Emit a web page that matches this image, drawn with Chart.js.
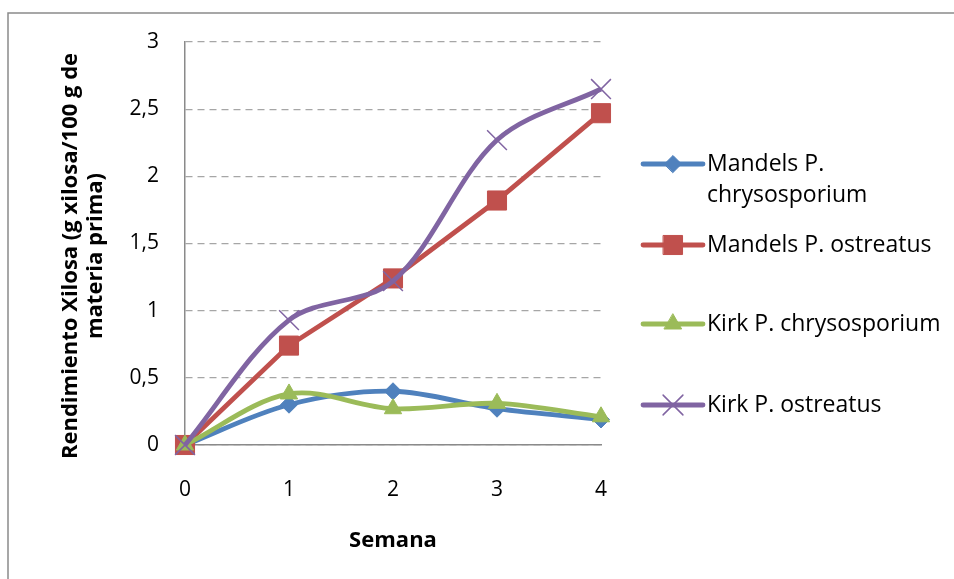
<!DOCTYPE html>
<html>
<head>
<meta charset="utf-8">
<script src="https://cdn.jsdelivr.net/npm/chart.js@4/dist/chart.umd.min.js"></script>
<style>
  html, body { margin: 0; padding: 0; background: #ffffff; }
  #wrap { width: 954px; height: 579px; position: relative; }
</style>
</head>
<body>
<div id="wrap"><canvas id="chart" width="954" height="579"></canvas></div>
<script>
// Semanas de tratamiento (eje X)
const semanas = ['0', '1', '2', '3', '4'];

// Rendimiento de xilosa (g xilosa / 100 g de materia prima)
const mandelsChrysosporium = [0, 0.30, 0.40, 0.27, 0.19];
const mandelsOstreatus     = [0, 0.74, 1.24, 1.82, 2.47];
const kirkChrysosporium    = [0, 0.38, 0.27, 0.31, 0.21];
const kirkOstreatus        = [0, 0.93, 1.22, 2.27, 2.65];

// Etiquetas del eje Y (coma decimal)
const yTickLabels = ['0', '0,5', '1', '1,5', '2', '2,5', '3'];

// Nombres de las series tal como aparecen en la leyenda (una entrada por línea)
const seriesNames = [
  ['Mandels P.', 'chrysosporium'],
  ['Mandels P. ostreatus'],
  ['Kirk P. chrysosporium'],
  ['Kirk P. ostreatus']
];

const yTitle = ['Rendimiento Xilosa (g xilosa/100 g de', 'materia prima)'];
const xTitle = 'Semana';

const FONT = '"Open Sans", Lato, sans-serif';
const TICK_SIZE = 21;
const TITLE_SIZE = 22;
const LEGEND_SIZE = 23;

const CHART_LEFT = 185, CHART_RIGHT = 601, CHART_TOP = 42, CHART_BOTTOM = 445;

// Marco exterior, título del eje Y y leyenda personalizada
const decorations = {
  id: 'decorations',
  beforeDraw(chart) {
    const ctx = chart.ctx;
    ctx.save();
    ctx.fillStyle = '#ffffff';
    ctx.fillRect(0, 0, chart.width, chart.height);
    ctx.strokeStyle = '#8a8a8a';
    ctx.lineWidth = 1.5;
    ctx.strokeRect(8, 13, chart.width + 20, chart.height + 20);
    ctx.restore();
  },
  afterDraw(chart) {
    const ctx = chart.ctx;
    ctx.save();

    // Título del eje Y, girado
    ctx.fillStyle = '#000000';
    ctx.font = 'bold ' + TITLE_SIZE + 'px ' + FONT;
    ctx.textAlign = 'center';
    ctx.textBaseline = 'middle';
    const midY = 256;
    yTitle.forEach((line, i) => {
      ctx.save();
      ctx.translate(71 + i * 25, midY);
      ctx.rotate(-Math.PI / 2);
      ctx.fillText(line, 0, 0);
      ctx.restore();
    });

    // Leyenda
    const rows = [164, 245, 324, 405];
    const lineX0 = 643, lineX1 = 703, textX = 707, lineGap = 31;
    chart.data.datasets.forEach((ds, i) => {
      const y = rows[i];
      ctx.strokeStyle = ds.borderColor;
      ctx.lineWidth = ds.borderWidth;
      ctx.lineCap = 'round';
      ctx.beginPath();
      ctx.moveTo(lineX0, y);
      ctx.lineTo(lineX1, y);
      ctx.stroke();
      ctx.fillStyle = ds.pointBackgroundColor;
      ctx.strokeStyle = ds.pointBorderColor;
      ctx.lineWidth = ds.pointBorderWidth;
      Chart.helpers.drawPoint(ctx, {
        pointStyle: ds.pointStyle,
        radius: ds.pointRadius,
        rotation: 0,
        borderWidth: ds.pointBorderWidth
      }, (lineX0 + lineX1) / 2, y);
      ctx.fillStyle = '#000000';
      ctx.font = LEGEND_SIZE + 'px ' + FONT;
      ctx.textAlign = 'left';
      ctx.textBaseline = 'middle';
      seriesNames[i].forEach((t, k) => ctx.fillText(t, textX, y + k * lineGap));
    });
    ctx.restore();
  }
};

function series(data, color, style, radius, tension, order, pointBorderWidth) {
  return {
    data: data,
    borderColor: color,
    backgroundColor: color,
    borderWidth: 4.8,
    pointStyle: style,
    pointRadius: radius,
    pointHoverRadius: radius,
    pointBackgroundColor: color,
    pointBorderColor: color,
    pointBorderWidth: pointBorderWidth,
    tension: tension,
    order: order,
    clip: false
  };
}

new Chart(document.getElementById('chart'), {
  type: 'line',
  data: {
    labels: semanas,
    datasets: [
      series(mandelsChrysosporium, '#4F81BD', 'rectRot', 8.5, 0.33, 4, 1),
      series(mandelsOstreatus,     '#C0504D', 'rect',    13.5, 0,    3, 1),
      series(kirkChrysosporium,    '#9BBB59', 'triangle', 10, 0.33,  2, 1),
      series(kirkOstreatus,        '#8064A2', 'crossRot', 14, 0.33,  1, 1.5)
    ]
  },
  options: {
    responsive: false,
    devicePixelRatio: 1,
    animation: false,
    events: [],
    layout: { padding: { left: 0, top: CHART_TOP, right: 954 - CHART_RIGHT, bottom: 0 } },
    plugins: {
      legend: { display: false },
      tooltip: { enabled: false }
    },
    scales: {
      x: {
        type: 'category',
        offset: false,
        grid: { display: false, drawTicks: false },
        border: { display: true, color: '#8a8a8a', width: 1.5 },
        ticks: {
          color: '#000000',
          font: { family: FONT, size: TICK_SIZE },
          padding: 32,
          maxRotation: 0
        },
        title: {
          display: true,
          text: xTitle,
          color: '#000000',
          font: { family: FONT, size: TITLE_SIZE, weight: 'bold' },
          padding: { top: 0, bottom: 25 }
        },
        afterFit(scale) { scale.height = 579 - CHART_BOTTOM; }
      },
      y: {
        min: 0,
        max: 3,
        grid: {
          color: '#a6a6a6',
          lineWidth: 1.3,
          drawTicks: false
        },
        border: { display: true, color: '#8a8a8a', width: 1.5, dash: [7, 5] },
        ticks: {
          stepSize: 0.5,
          color: '#000000',
          font: { family: FONT, size: TICK_SIZE },
          padding: 26,
          callback: (v, i) => yTickLabels[i]
        },
        afterFit(scale) { scale.width = CHART_LEFT; }
      }
    }
  },
  plugins: [decorations]
});
</script>
</body>
</html>
